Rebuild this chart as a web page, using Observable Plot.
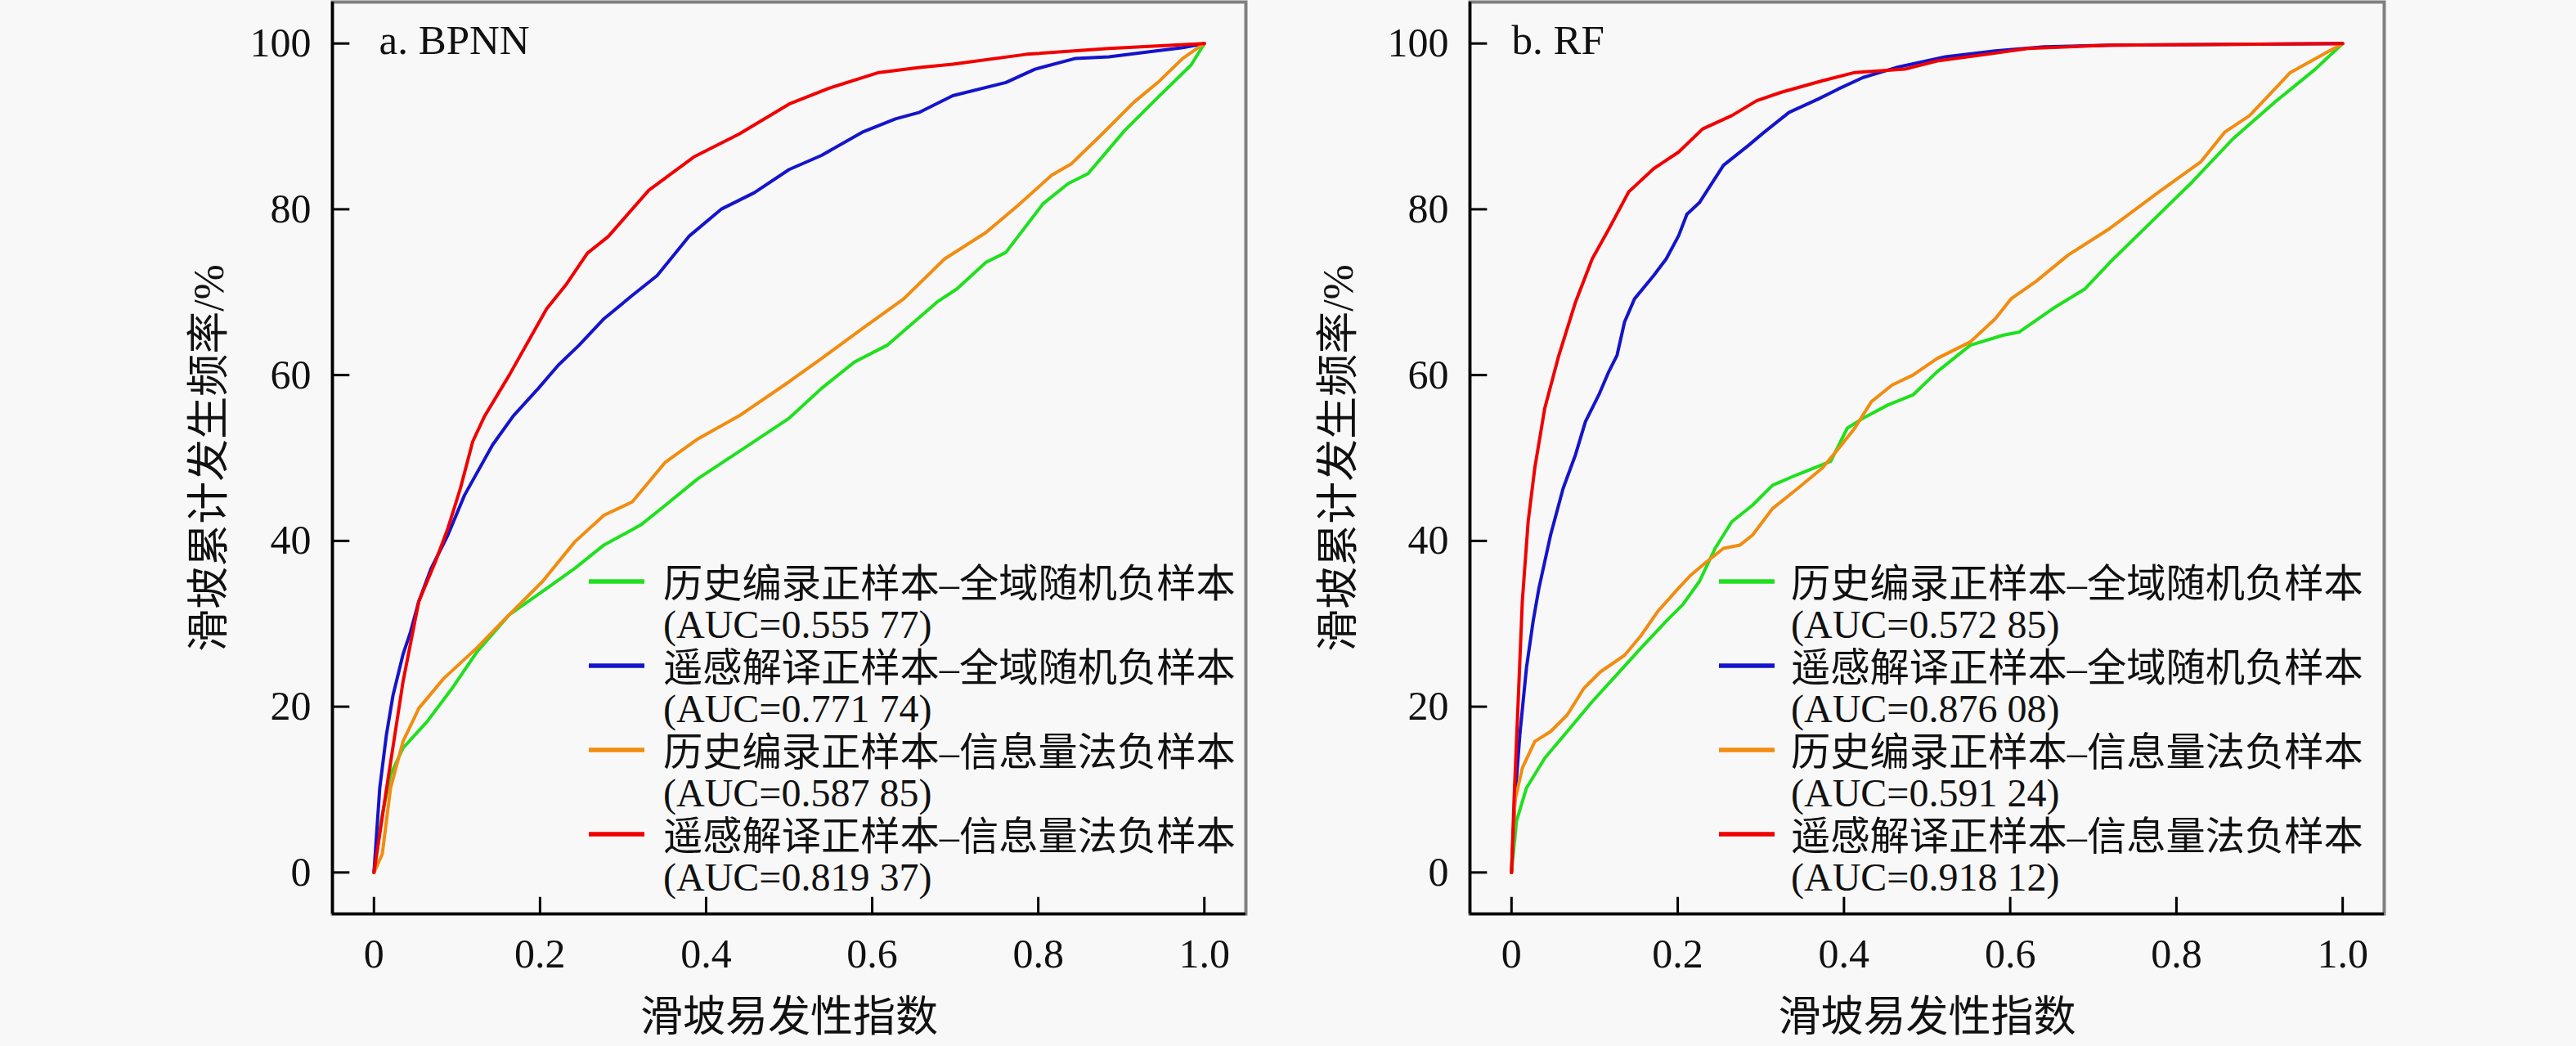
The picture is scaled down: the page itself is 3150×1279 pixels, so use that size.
<!DOCTYPE html>
<html><head><meta charset="utf-8">
<script src="https://cdn.jsdelivr.net/npm/d3@7"></script>
<script src="https://cdn.jsdelivr.net/npm/@observablehq/plot@0.6"></script>
<style>
html,body{margin:0;padding:0;background:#f8f8f8;}
#wrap{display:flex;width:3150px;height:1279px;background:#f8f8f8;}
#wrap svg{display:block;}
</style></head><body><div id="wrap"></div>
<script>
// ---- labels ----
const xTicks = [0, 0.2, 0.4, 0.6, 0.8, 1.0];
const yTicks = [0, 20, 40, 60, 80, 100];
const seriesNames = [
  "历史编录正样本–全域随机负样本",
  "遥感解译正样本–全域随机负样本",
  "历史编录正样本–信息量法负样本",
  "遥感解译正样本–信息量法负样本"
];
const seriesColors = ["#1fe01f", "#1414cc", "#f28c10", "#f20000"];
const panelTitles = ["a. BPNN", "b. RF"];
const aucBPNN = ["0.555 77", "0.771 74", "0.587 85", "0.819 37"];
const aucRF = ["0.572 85", "0.876 08", "0.591 24", "0.918 12"];
const xTitle = "滑坡易发性指数";
const yTitle = "滑坡累计发生频率/%";

// ---- BPNN curves [index, cumulative %] ----
const bpnnGreen = [[0,0],[0.01,7],[0.02,11.8],[0.035,15],[0.064,18.2],[0.094,22.2],[0.124,26.6],[0.163,31.1],[0.203,33.9],[0.242,36.7],[0.277,39.5],[0.321,41.9],[0.351,44.3],[0.39,47.5],[0.44,50.8],[0.5,54.8],[0.539,58.4],[0.579,61.6],[0.618,63.6],[0.678,68.8],[0.702,70.4],[0.737,73.6],[0.761,74.8],[0.806,80.7],[0.836,83.1],[0.86,84.3],[0.904,89.5],[0.944,93.5],[0.984,97.4],[1,100]];
const bpnnBlue = [[0,0],[0.007,10.2],[0.015,16.6],[0.023,21.4],[0.035,26.3],[0.044,29],[0.054,32.7],[0.069,36.7],[0.089,40.7],[0.109,45.5],[0.143,51.6],[0.168,55.1],[0.198,58.4],[0.222,61.2],[0.247,63.6],[0.277,66.8],[0.311,69.6],[0.341,72],[0.38,76.8],[0.418,80],[0.458,82],[0.5,84.8],[0.539,86.5],[0.588,89.3],[0.628,90.9],[0.657,91.7],[0.697,93.7],[0.761,95.3],[0.796,96.9],[0.845,98.2],[0.885,98.4],[0.934,99],[0.974,99.5],[1,100]];
const bpnnOrange = [[0,0],[0.01,2.2],[0.02,10.2],[0.035,15.8],[0.054,19.8],[0.084,23.4],[0.124,27.1],[0.163,31.1],[0.203,35.1],[0.242,39.9],[0.277,43.1],[0.311,44.7],[0.351,49.5],[0.39,52.3],[0.44,55.1],[0.5,59.2],[0.539,62],[0.588,65.6],[0.638,69.2],[0.687,74],[0.737,77.2],[0.776,80.5],[0.816,84.1],[0.84,85.5],[0.875,88.9],[0.915,92.9],[0.944,95.3],[0.974,98.2],[1,100]];
const bpnnRed = [[0,0],[0.015,10],[0.035,23],[0.054,32.7],[0.074,37.5],[0.089,41.5],[0.104,46.3],[0.119,52],[0.133,55],[0.163,60],[0.208,68],[0.232,71],[0.257,74.7],[0.282,76.7],[0.331,82.3],[0.385,86.3],[0.44,89.1],[0.5,92.7],[0.548,94.6],[0.608,96.5],[0.657,97.1],[0.697,97.5],[0.786,98.7],[0.885,99.4],[1,100]];

// ---- RF curves ----
const rfGreen = [[0,0],[0.006,6.2],[0.018,10.2],[0.04,13.8],[0.067,17],[0.097,20.6],[0.127,23.9],[0.156,27.1],[0.186,30.3],[0.206,32.3],[0.226,35.1],[0.245,39.1],[0.265,42.3],[0.29,44.3],[0.314,46.7],[0.344,48],[0.384,49.6],[0.404,53.6],[0.423,54.8],[0.453,56.4],[0.483,57.6],[0.512,60.4],[0.552,63.6],[0.591,64.8],[0.611,65.2],[0.651,68],[0.69,70.4],[0.72,73.6],[0.769,78.4],[0.819,83.3],[0.868,88.5],[0.918,92.9],[0.967,96.9],[1,100]];
const rfBlue = [[0,0],[0.004,8.6],[0.01,16.6],[0.018,24.7],[0.026,30.3],[0.033,34.3],[0.047,40.7],[0.062,46.3],[0.077,50.4],[0.089,54.4],[0.105,57.6],[0.117,60.4],[0.127,62.4],[0.136,66.4],[0.148,69.2],[0.171,72],[0.186,74],[0.201,76.8],[0.211,79.4],[0.226,80.8],[0.255,85.3],[0.285,87.7],[0.304,89.3],[0.334,91.7],[0.369,93.3],[0.393,94.5],[0.423,95.9],[0.463,97.1],[0.522,98.4],[0.582,99.1],[0.641,99.6],[0.72,99.8],[1,100]];
const rfOrange = [[0,0],[0.004,8.6],[0.013,12.6],[0.028,15.8],[0.047,17],[0.067,19],[0.087,22.2],[0.107,24.2],[0.136,26.2],[0.156,28.6],[0.176,31.5],[0.201,34.3],[0.216,35.9],[0.235,37.5],[0.255,39.1],[0.275,39.5],[0.29,40.7],[0.314,43.9],[0.344,46.3],[0.374,48.8],[0.394,51.2],[0.413,53.6],[0.433,56.8],[0.458,58.8],[0.483,60],[0.512,62],[0.552,64],[0.582,66.8],[0.601,69.2],[0.631,71.3],[0.67,74.5],[0.72,77.7],[0.779,82.1],[0.829,85.7],[0.858,89.3],[0.888,91.3],[0.937,96.5],[1,100]];
const rfRed = [[0,0],[0.003,8.6],[0.008,20.6],[0.013,32.7],[0.02,42.3],[0.028,48.8],[0.04,56],[0.057,62.4],[0.077,68.8],[0.097,74],[0.117,77.6],[0.141,82.1],[0.171,84.9],[0.201,86.9],[0.23,89.7],[0.265,91.3],[0.295,93.1],[0.324,94.1],[0.374,95.5],[0.413,96.5],[0.473,96.9],[0.512,97.9],[0.572,98.7],[0.621,99.4],[0.72,99.8],[1,100]];

const xDomain = [-0.05, 1.05];
const yDomain = [-5, 105];
const serif = "'Liberation Serif', 'Times New Roman', 'Noto Sans CJK SC', serif";
const legendNameWidth = 700;

function rowsOf(curves) {
  const rows = [];
  curves.forEach((c, i) => c.forEach(([x, y]) => rows.push({x, y, s: seriesNames[i]})));
  return rows;
}

function legendMark(swDx, txDx, aucs) {
  return (index, scales, values, dims) => {
    const g = d3.create("svg:g").attr("text-anchor", "start");
    const x0 = dims.marginLeft, y0 = dims.marginTop;
    seriesNames.forEach((name, i) => {
      const cy = y0 + 709 + i * 103;
      g.append("line")
        .attr("x1", x0 + swDx).attr("x2", x0 + swDx + 68)
        .attr("y1", cy).attr("y2", cy)
        .attr("stroke", seriesColors[i]).attr("stroke-width", 5.5);
      g.append("text")
        .attr("class", "lg-name")
        .attr("x", x0 + txDx).attr("y", cy + 19)
        .attr("text-anchor", "start")
        .attr("font-size", 49).attr("font-family", serif).attr("fill", "#111")
        .text(name);
      g.append("text")
        .attr("x", x0 + txDx).attr("y", cy + 69)
        .attr("text-anchor", "start")
        .attr("font-size", 48).attr("font-family", serif).attr("fill", "#111")
        .text(`(AUC=${aucs[i]})`);
    });
    return g.node();
  };
}

function panel(curves, title, aucs, ml, mr, lg) {
  const rows = rowsOf(curves);
  return Plot.plot({
    width: 1575, height: 1279,
    marginLeft: ml, marginRight: mr, marginTop: 2, marginBottom: 162,
    style: {background: "#f8f8f8", fontSize: "50px", fontFamily: serif, color: "#111"},
    x: {domain: xDomain, label: null},
    y: {domain: yDomain, label: null},
    color: {domain: seriesNames, range: seriesColors},
    marks: [
      Plot.frame({stroke: "#808080", strokeWidth: 4}),
      Plot.ruleX([xDomain[0]], {stroke: "#000", strokeWidth: 3.5}),
      Plot.ruleY([yDomain[0]], {stroke: "#000", strokeWidth: 3.5}),
      Plot.ruleX(xTicks, {y1: yDomain[0], y2: yDomain[0] + 2, stroke: "#000", strokeWidth: 3}),
      Plot.ruleY(yTicks, {x1: xDomain[0], x2: xDomain[0] + 0.021, stroke: "#000", strokeWidth: 3}),
      Plot.axisX(xTicks, {tickSize: 0, tickPadding: 30, tickFormat: d => d === 0 ? "0" : d.toFixed(1), label: null}),
      Plot.axisY(yTicks, {tickSize: 0, tickPadding: 26, tickFormat: d => String(d), label: null}),
      Plot.line(rows, {x: "x", y: "y", stroke: "s", z: "s", strokeWidth: 4, strokeLinejoin: "round"}),
      Plot.text([title], {frameAnchor: "top-left", dx: lg.tdx, dy: 63, lineAnchor: "bottom", textAnchor: "start", fontSize: 51, fill: "#111"}),
      Plot.text([yTitle], {frameAnchor: "left", dx: -lg.ydx, rotate: -90, lineAnchor: "middle", textAnchor: "middle", fontSize: 52, fill: "#111"}),
      Plot.text([xTitle], {frameAnchor: "bottom", dy: 127, lineAnchor: "middle", textAnchor: "middle", fontSize: 52, fill: "#111"}),
      legendMark(lg.sw, lg.tx, aucs)
    ]
  });
}

const wrap = document.getElementById("wrap");
wrap.appendChild(panel([bpnnGreen, bpnnBlue, bpnnOrange, bpnnRed], panelTitles[0], aucBPNN, 406, 52, {sw: 314, tx: 405, tdx: 57, ydx: 150}));
wrap.appendChild(panel([rfGreen, rfBlue, rfOrange, rfRed], panelTitles[1], aucRF, 222, 235, {sw: 305, tx: 393, tdx: 51, ydx: 160}));

// fit legend series names to the measured reference width
document.querySelectorAll("text.lg-name").forEach(t => {
  const len = t.getComputedTextLength();
  if (len > 0) {
    const fs = +t.getAttribute("font-size");
    t.setAttribute("font-size", (fs * legendNameWidth / len).toFixed(2));
  }
});
</script></body></html>
